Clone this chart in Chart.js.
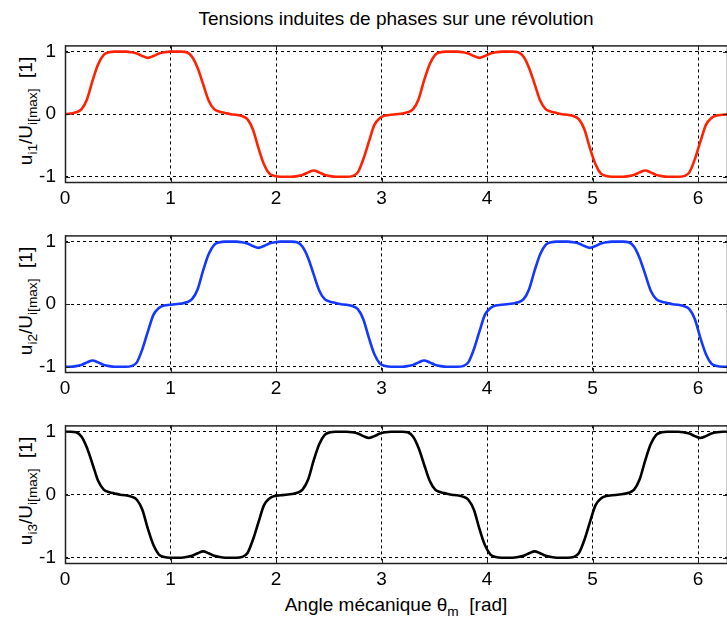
<!DOCTYPE html>
<html>
<head>
<meta charset="utf-8">
<script src="https://cdn.jsdelivr.net/npm/chart.js@4/dist/chart.umd.min.js"></script>
<style>
  html, body { margin: 0; padding: 0; width: 727px; height: 625px; overflow: hidden; background: #fff; }
  body { position: relative; font-family: "Liberation Sans", Arial, sans-serif; color: #000; }
  .txt { position: absolute; white-space: nowrap; font-size: 19px; line-height: 1; }
  .ylab { position: absolute; white-space: nowrap; font-size: 19px; line-height: 1;
          transform: translate(-50%, -50%) rotate(-90deg); }
  sub { font-size: 0.72em; vertical-align: -0.38em; line-height: 0; }
  canvas { position: absolute; left: 0; }
</style>
</head>
<body>
<div class="txt" style="left:396px; top:9px; transform:translateX(-50%);">Tensions induites de phases sur une révolution</div>
<div class="ylab" style="left:25px; top:111px;">u<sub>i1</sub>/U<sub>i[max]</sub>&nbsp;&nbsp;[1]</div>
<div class="ylab" style="left:25px; top:301px;">u<sub>i2</sub>/U<sub>i[max]</sub>&nbsp;&nbsp;[1]</div>
<div class="ylab" style="left:25px; top:491px;">u<sub>i3</sub>/U<sub>i[max]</sub>&nbsp;&nbsp;[1]</div>
<div class="txt" style="left:396px; top:595px; transform:translateX(-50%);">Angle mécanique θ<sub>m</sub>&nbsp;&nbsp;[rad]</div>

<script>
// Mechanical angle samples over one revolution [rad]
const theta = [
  0, 0.052, 0.105, 0.157, 0.209, 0.262, 0.314, 0.367, 0.419, 0.471,
  0.524, 0.576, 0.628, 0.681, 0.733, 0.785, 0.838, 0.890, 0.942, 0.995,
  1.047, 1.100, 1.152, 1.204, 1.257, 1.309, 1.361, 1.414, 1.466, 1.518,
  1.571, 1.623, 1.676, 1.728, 1.780, 1.833, 1.885, 1.937, 1.990, 2.042,
  2.094, 2.147, 2.199, 2.251, 2.304, 2.356, 2.409, 2.461, 2.513, 2.566,
  2.618, 2.670, 2.723, 2.775, 2.827, 2.880, 2.932, 2.985, 3.037, 3.089,
  3.142, 3.194, 3.246, 3.299, 3.351, 3.403, 3.456, 3.508, 3.560, 3.613,
  3.665, 3.718, 3.770, 3.822, 3.875, 3.927, 3.979, 4.032, 4.084, 4.136,
  4.189, 4.241, 4.294, 4.346, 4.398, 4.451, 4.503, 4.555, 4.608, 4.660,
  4.712, 4.765, 4.817, 4.869, 4.922, 4.974, 5.027, 5.079, 5.131, 5.184,
  5.236, 5.288, 5.341, 5.393, 5.445, 5.498, 5.550, 5.603, 5.655, 5.707,
  5.760, 5.812, 5.864, 5.917, 5.969, 6.021, 6.074, 6.126, 6.178, 6.231,
  6.283
];

// Normalised induced voltage, phase 1
const ui1 = [
  0, 0.01, 0.03, 0.08, 0.24, 0.54, 0.80, 0.95, 0.99, 1.00,
  1.00, 1.00, 0.99, 0.97, 0.93, 0.90, 0.93, 0.97, 0.99, 1.00,
  1.00, 1.00, 0.99, 0.92, 0.74, 0.48, 0.22, 0.08, 0.04, 0.02,
  0.00, -0.01, -0.03, -0.08, -0.24, -0.54, -0.80, -0.95, -0.99, -1.00,
  -1.00, -1.00, -0.99, -0.97, -0.93, -0.90, -0.93, -0.97, -0.99, -1.00,
  -1.00, -1.00, -0.99, -0.93, -0.72, -0.44, -0.17, -0.06, -0.02, -0.01,
  0, 0.01, 0.03, 0.08, 0.24, 0.54, 0.80, 0.95, 0.99, 1.00,
  1.00, 1.00, 0.99, 0.97, 0.93, 0.90, 0.93, 0.97, 0.99, 1.00,
  1.00, 1.00, 0.99, 0.92, 0.74, 0.48, 0.22, 0.08, 0.04, 0.02,
  0.00, -0.01, -0.03, -0.08, -0.24, -0.54, -0.80, -0.95, -0.99, -1.00,
  -1.00, -1.00, -0.99, -0.97, -0.93, -0.90, -0.93, -0.97, -0.99, -1.00,
  -1.00, -1.00, -0.99, -0.93, -0.72, -0.44, -0.17, -0.06, -0.02, -0.01,
  0
];

// Normalised induced voltage, phase 2
const ui2 = [
  -1.00, -1.00, -0.99, -0.97, -0.93, -0.90, -0.93, -0.97, -0.99, -1.00,
  -1.00, -1.00, -0.99, -0.93, -0.72, -0.44, -0.17, -0.06, -0.02, -0.01,
  0, 0.01, 0.03, 0.08, 0.24, 0.54, 0.80, 0.95, 0.99, 1.00,
  1.00, 1.00, 0.99, 0.97, 0.93, 0.90, 0.93, 0.97, 0.99, 1.00,
  1.00, 1.00, 0.99, 0.92, 0.74, 0.48, 0.22, 0.08, 0.04, 0.02,
  0.00, -0.01, -0.03, -0.08, -0.24, -0.54, -0.80, -0.95, -0.99, -1.00,
  -1.00, -1.00, -0.99, -0.97, -0.93, -0.90, -0.93, -0.97, -0.99, -1.00,
  -1.00, -1.00, -0.99, -0.93, -0.72, -0.44, -0.17, -0.06, -0.02, -0.01,
  0, 0.01, 0.03, 0.08, 0.24, 0.54, 0.80, 0.95, 0.99, 1.00,
  1.00, 1.00, 0.99, 0.97, 0.93, 0.90, 0.93, 0.97, 0.99, 1.00,
  1.00, 1.00, 0.99, 0.92, 0.74, 0.48, 0.22, 0.08, 0.04, 0.02,
  0.00, -0.01, -0.03, -0.08, -0.24, -0.54, -0.80, -0.95, -0.99, -1.00,
  -1.00
];

// Normalised induced voltage, phase 3
const ui3 = [
  1.00, 1.00, 0.99, 0.92, 0.74, 0.48, 0.22, 0.08, 0.04, 0.02,
  0.00, -0.01, -0.03, -0.08, -0.24, -0.54, -0.80, -0.95, -0.99, -1.00,
  -1.00, -1.00, -0.99, -0.97, -0.93, -0.90, -0.93, -0.97, -0.99, -1.00,
  -1.00, -1.00, -0.99, -0.93, -0.72, -0.44, -0.17, -0.06, -0.02, -0.01,
  0, 0.01, 0.03, 0.08, 0.24, 0.54, 0.80, 0.95, 0.99, 1.00,
  1.00, 1.00, 0.99, 0.97, 0.93, 0.90, 0.93, 0.97, 0.99, 1.00,
  1.00, 1.00, 0.99, 0.92, 0.74, 0.48, 0.22, 0.08, 0.04, 0.02,
  0.00, -0.01, -0.03, -0.08, -0.24, -0.54, -0.80, -0.95, -0.99, -1.00,
  -1.00, -1.00, -0.99, -0.97, -0.93, -0.90, -0.93, -0.97, -0.99, -1.00,
  -1.00, -1.00, -0.99, -0.93, -0.72, -0.44, -0.17, -0.06, -0.02, -0.01,
  0, 0.01, 0.03, 0.08, 0.24, 0.54, 0.80, 0.95, 0.99, 1.00,
  1.00, 1.00, 0.99, 0.97, 0.93, 0.90, 0.93, 0.97, 0.99, 1.00,
  1.00
];

const xTicks = [0, 1, 2, 3, 4, 5, 6];
const yTicks = [-1, 0, 1];
const xMax = 6.283;
const yMin = -1.1, yMax = 1.1;

const FONT = { family: '"Liberation Sans", Arial, sans-serif', size: 19 };
const PAD_TOP = 14;
const X_AXIS_H = 28;

// Closed axes box with inward tick marks
const frame = {
  id: 'frame',
  afterDraw(chart) {
    const { ctx, chartArea: a, scales: { x, y } } = chart;
    ctx.save();
    ctx.setLineDash([]);
    ctx.strokeStyle = '#222';
    ctx.lineWidth = 1.5;
    ctx.strokeRect(a.left + 0.5, a.top + 0.5, a.right - a.left - 1, a.bottom - a.top - 1);
    ctx.lineWidth = 1;
    ctx.beginPath();
    const tl = 5;
    x.ticks.forEach(t => {
      const px = Math.round(x.getPixelForValue(t.value)) + 0.5;
      ctx.moveTo(px, a.bottom); ctx.lineTo(px, a.bottom - tl);
      ctx.moveTo(px, a.top); ctx.lineTo(px, a.top + tl);
    });
    y.ticks.forEach(t => {
      const py = Math.round(y.getPixelForValue(t.value)) + 0.5;
      ctx.moveTo(a.left, py); ctx.lineTo(a.left + tl, py);
      ctx.moveTo(a.right, py); ctx.lineTo(a.right - tl, py);
    });
    ctx.stroke();
    ctx.restore();
  }
};

function panel(top, plotHeight, values, color) {
  const h = PAD_TOP + plotHeight + X_AXIS_H;
  const cv = document.createElement('canvas');
  cv.width = 736; cv.height = h;
  cv.style.top = (top - PAD_TOP) + 'px';
  cv.style.width = '736px'; cv.style.height = h + 'px';
  document.body.appendChild(cv);
  return new Chart(cv, {
    type: 'line',
    data: {
      datasets: [{
        data: theta.map((t, i) => ({ x: t, y: values[i] })),
        borderColor: color,
        borderWidth: 2.6,
        pointRadius: 0,
        cubicInterpolationMode: 'monotone',
        fill: false
      }]
    },
    options: {
      responsive: false,
      animation: false,
      devicePixelRatio: 1,
      layout: { padding: { top: PAD_TOP, right: 8, bottom: 0, left: 0 } },
      plugins: { legend: { display: false }, tooltip: { enabled: false } },
      scales: {
        x: {
          type: 'linear', min: 0, max: xMax,
          afterBuildTicks: s => { s.ticks = xTicks.map(v => ({ value: v })); },
          afterFit: s => { s.height = X_AXIS_H; },
          grid: { color: '#000', lineWidth: 1, drawTicks: false, tickLength: 0, borderDash: [3, 3] },
          border: { display: false, dash: [3, 3] },
          ticks: { color: '#000', padding: 4, font: FONT, maxRotation: 0, autoSkip: false }
        },
        y: {
          type: 'linear', min: yMin, max: yMax,
          afterBuildTicks: s => { s.ticks = yTicks.map(v => ({ value: v })); },
          afterFit: s => { s.width = 65; },
          grid: { color: '#000', lineWidth: 1, drawTicks: false, tickLength: 0, borderDash: [3, 3] },
          border: { display: false, dash: [3, 3] },
          ticks: { color: '#000', padding: 9, font: FONT }
        }
      }
    },
    plugins: [frame]
  });
}

panel(39, 144, ui1, '#ff2200');
panel(229, 144, ui2, '#1438ff');
panel(419, 145, ui3, '#000000');
</script>
</body>
</html>
